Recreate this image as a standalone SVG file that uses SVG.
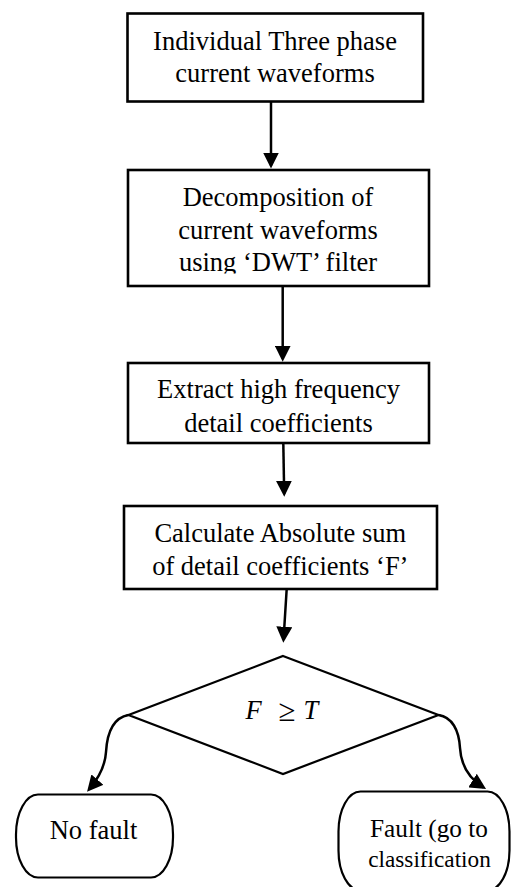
<svg xmlns="http://www.w3.org/2000/svg" width="511" height="887" viewBox="0 0 511 887">
  <style>
    .box { fill: #ffffff; stroke: #000000; stroke-width: 2.6; }
    .term { fill: #ffffff; stroke: #000000; stroke-width: 2.2; }
    .dec { fill: #ffffff; stroke: #000000; stroke-width: 2.2; stroke-linejoin: miter; }
    .lbl { font-family: "Liberation Serif", "Times New Roman", serif; font-size: 26.5px; fill: #000000; text-anchor: middle; }
    .math { font-family: "Liberation Serif", "Times New Roman", serif; font-size: 26.5px; fill: #000000; }
    .conn { fill: none; stroke: #000000; stroke-width: 2.5; }
  </style>
  <defs>
    <marker id="ah" viewBox="0 0 16 16" markerUnits="userSpaceOnUse" markerWidth="16" markerHeight="16" refX="13" refY="8" orient="auto">
      <path d="M0,0 L16,8 L0,16 z" fill="#000000"/>
    </marker>
    <clipPath id="clipDWT"><rect x="0" y="0" width="511" height="273.5"/></clipPath>
    <clipPath id="clipClass"><rect x="0" y="0" width="511" height="867.5"/></clipPath>
  </defs>

  <rect width="511" height="887" fill="#ffffff"/>

  <g id="connectors">
    <path class="conn" d="M271,101.5 L271,165.5" marker-end="url(#ah)"/>
    <path class="conn" d="M282.7,286 L282.7,358.7" marker-end="url(#ah)"/>
    <path class="conn" d="M283.3,443 L284.2,493.7" marker-end="url(#ah)"/>
    <path class="conn" d="M286.7,589 L283.5,639.7" marker-end="url(#ah)"/>
    <path class="conn" d="M128.5,715 C112,718 107,735 106,752 C105,768 98,779 89,789.5" marker-end="url(#ah)"/>
    <path class="conn" d="M438.5,715 C452,717 459,730 460,748 C461,766 470,779 483.5,787.5" marker-end="url(#ah)"/>
  </g>

  <g id="n1">
    <rect class="box" x="127.5" y="13.5" width="295.5" height="88"/>
    <text class="lbl" x="275" y="49.5">Individual Three phase</text>
    <text class="lbl" x="275" y="82">current waveforms</text>
  </g>

  <g id="n2">
    <rect class="box" x="128" y="170" width="301" height="116"/>
    <text class="lbl" x="278" y="206">Decomposition of</text>
    <text class="lbl" x="278" y="238.5">current waveforms</text>
    <text class="lbl" x="278" y="271" clip-path="url(#clipDWT)">using ‘DWT’ filter</text>
  </g>

  <g id="n3">
    <rect class="box" x="128" y="363" width="301" height="80"/>
    <text class="lbl" x="278.5" y="398.3">Extract high frequency</text>
    <text class="lbl" x="278.5" y="431.7">detail coefficients</text>
  </g>

  <g id="n4">
    <rect class="box" x="124" y="506" width="313" height="83"/>
    <text class="lbl" x="280.3" y="541.7">Calculate Absolute sum</text>
    <text class="lbl" x="280.3" y="575">of detail coefficients ‘F’</text>
  </g>

  <g id="decision">
    <polygon class="dec" points="283,656 438.5,715 283,774 128.5,715"/>
    <text class="math" x="245.5" y="719.3" font-style="italic">F</text>
    <text class="math" x="286.7" y="720.5" text-anchor="middle" style="font-size:31px">≥</text>
    <text class="math" x="303.5" y="719.3" font-style="italic">T</text>
  </g>

  <g id="nofault">
    <rect class="term" x="16" y="794.5" width="157" height="83" rx="22" ry="40"/>
    <text class="lbl" x="93.5" y="839">No fault</text>
  </g>

  <g id="fault">
    <rect class="term" x="338.5" y="791.5" width="171" height="99" rx="22" ry="40"/>
    <text class="lbl" x="429" y="836.7" style="font-size:25.5px" textLength="118" lengthAdjust="spacingAndGlyphs">Fault (go to</text>
    <text class="lbl" x="429.5" y="866.7" style="font-size:23.5px" textLength="122.5" lengthAdjust="spacingAndGlyphs" clip-path="url(#clipClass)">classification</text>
  </g>
</svg>
